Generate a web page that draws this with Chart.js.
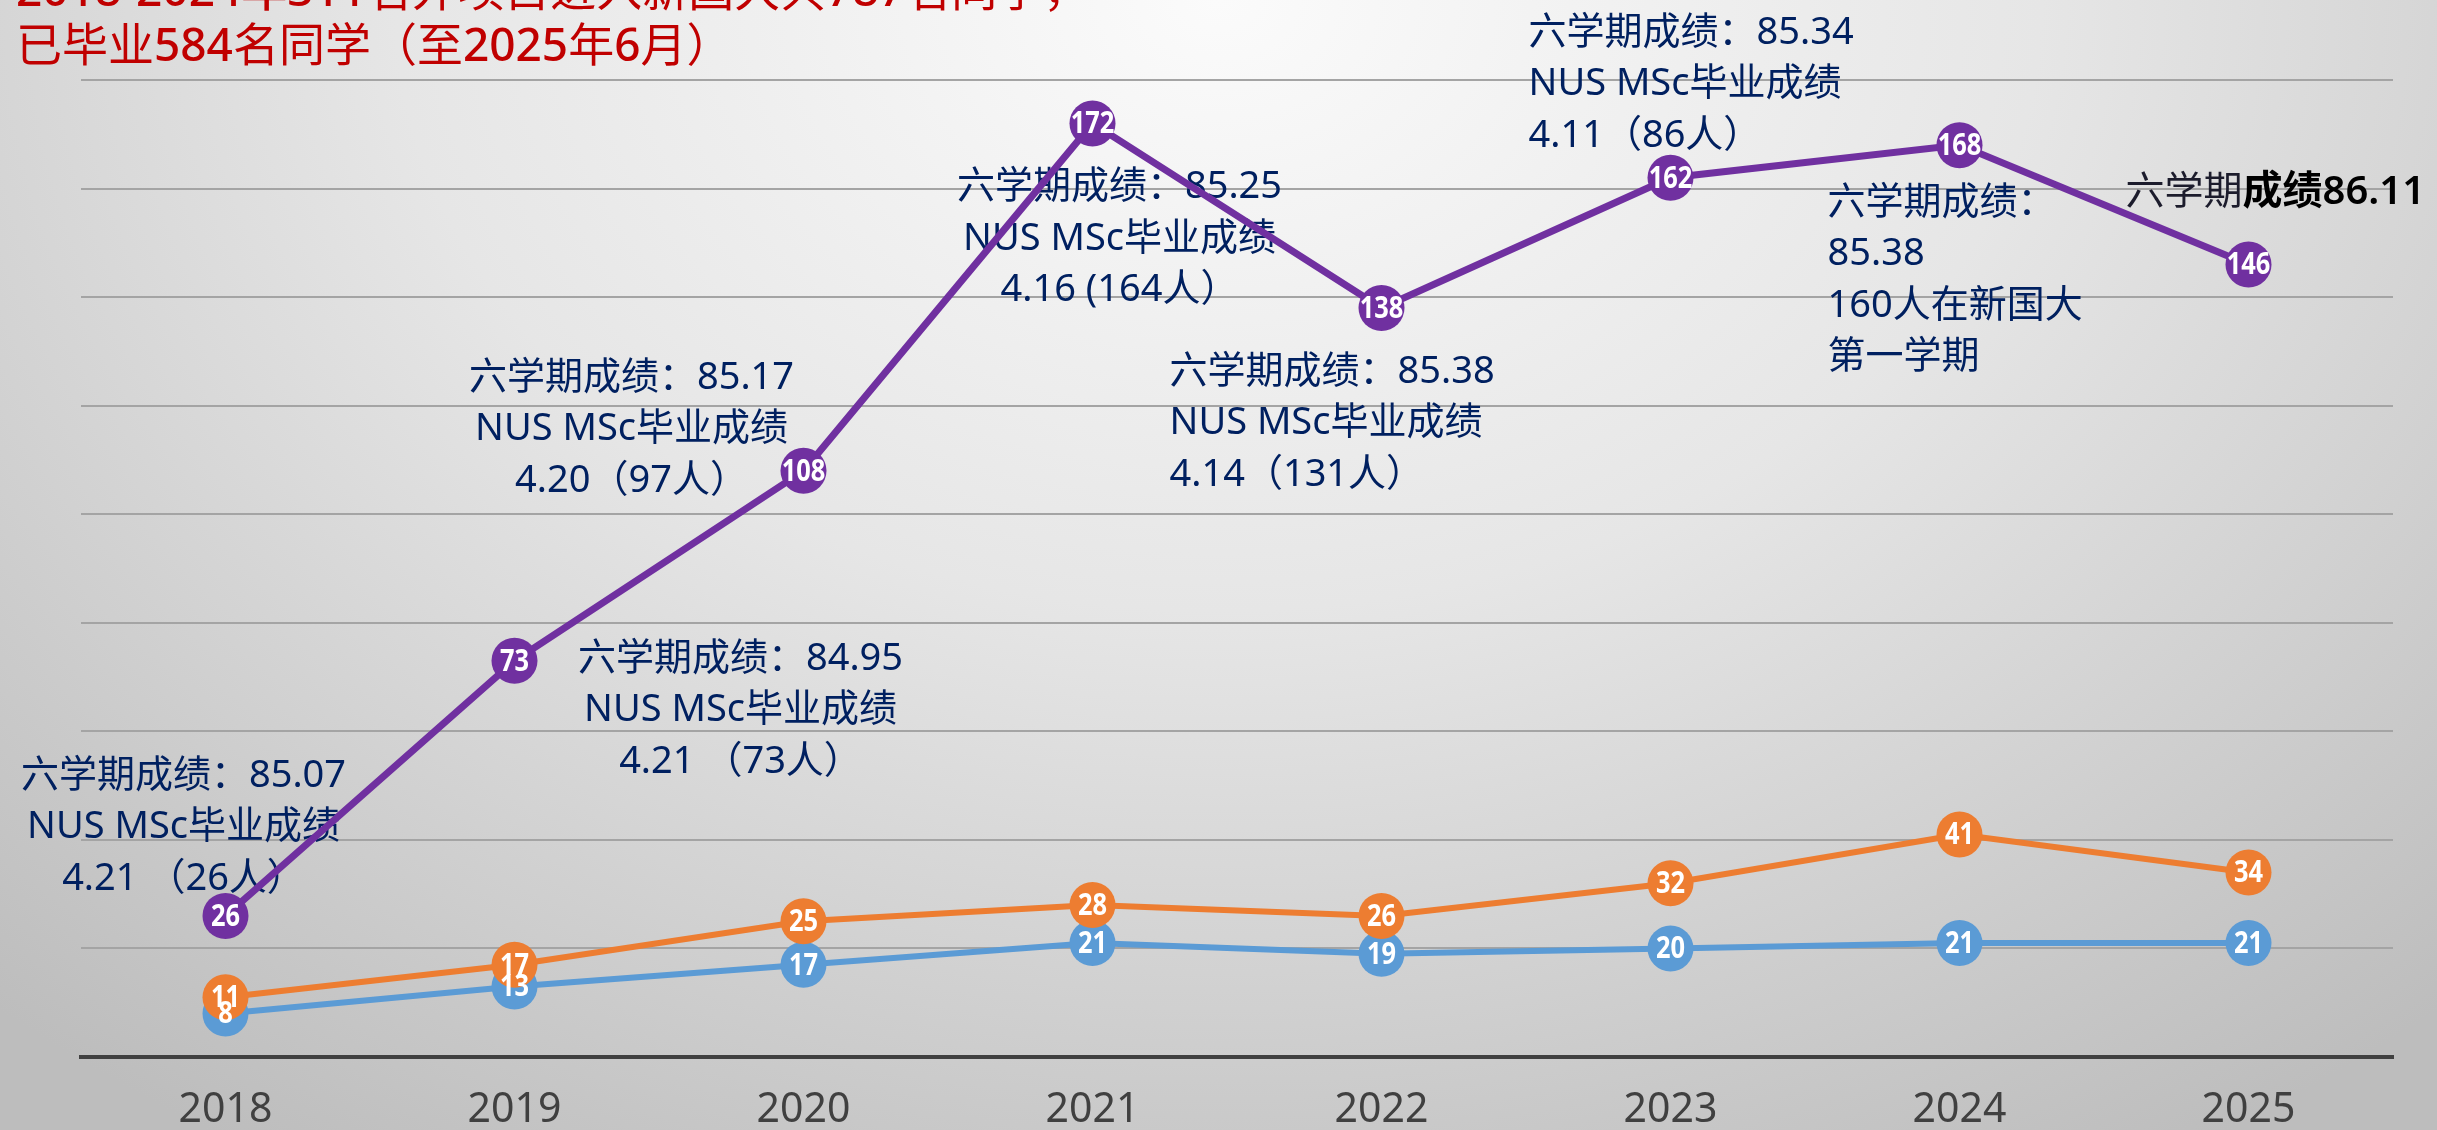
<!DOCTYPE html>
<html>
<head>
<meta charset="utf-8">
<script src="https://cdn.jsdelivr.net/npm/chart.js@4.4.1/dist/chart.umd.min.js"></script>
<style>
  html, body { margin: 0; padding: 0; }
  body {
    width: 2437px; height: 1130px; overflow: hidden;
    background: radial-gradient(ellipse 75% 120% at 50% 0%, #fbfbfb 0%, #e6e6e6 45%, #c8c8c8 85%, #bdbdbd 100%);
  }
  #wrap { position: relative; width: 2437px; height: 1130px; }
</style>
</head>
<body>
<div id="wrap"><canvas id="c"></canvas></div>
<script>
const years = ['2018', '2019', '2020', '2021', '2022', '2023', '2024', '2025'];
const purpleSeries = [26, 73, 108, 172, 138, 162, 168, 146];
const orangeSeries = [11, 17, 25, 28, 26, 32, 41, 34];
const blueSeries = [8, 13, 17, 21, 19, 20, 21, 21];
const yTicks = [0, 20, 40, 60, 80, 100, 120, 140, 160, 180];

const titleLines = [
  [['2018-2024年311', true], ['名外项目进入新国大共', false], ['787', true], ['名同学，', false]],
  [['已毕业', false], ['584', true], ['名同学（至', false], ['2025', true], ['年', false], ['6', true], ['月）', false]]
];

// notes next to the purple points: index, text lines, offset from the point, alignment
const notes = [
  { i: 0, align: 'center', dx: -42, dy: -140, lines: ['六学期成绩：85.07', 'NUS MSc毕业成绩', '4.21 （26人）'] },
  { i: 1, align: 'center', dx: 226, dy: -2, lines: ['六学期成绩：84.95', 'NUS MSc毕业成绩', '4.21 （73人）'] },
  { i: 2, align: 'center', dx: -172, dy: -93, lines: ['六学期成绩：85.17', 'NUS MSc毕业成绩', '4.20（97人）'] },
  { i: 3, align: 'center', dx: 27, dy: 64, lines: ['六学期成绩：85.25', 'NUS MSc毕业成绩', '4.16 (164人）'] },
  { i: 4, align: 'left', dx: -212, dy: 64, lines: ['六学期成绩：85.38', 'NUS MSc毕业成绩', '4.14（131人）'] },
  { i: 5, align: 'left', dx: -142, dy: -145, lines: ['六学期成绩：85.34', 'NUS MSc毕业成绩', '4.11（86人）'] },
  { i: 6, align: 'left', dx: -132, dy: 58, lines: ['六学期成绩：', '85.38', '160人在新国大', '第一学期'] }
];

const FONT = '"Noto Sans", "Noto Sans CJK SC", sans-serif';

const notesPlugin = {
  id: 'notes',
  beforeDatasetsDraw(chart) {
    const ctx = chart.ctx;
    const xs = chart.scales.x, ys = chart.scales.y;
    ctx.save();
    ctx.textBaseline = 'middle';
    ctx.font = '38px ' + FONT;
    ctx.fillStyle = '#002060';
    notes.forEach(n => {
      const px = xs.getPixelForValue(n.i);
      const py = ys.getPixelForValue(purpleSeries[n.i]);
      ctx.textAlign = n.align;
      n.lines.forEach((t, k) => ctx.fillText(t, px + n.dx, py + n.dy + k * 51.5));
    });
    // last note, black
    const px = xs.getPixelForValue(7) - 123;
    const py = ys.getPixelForValue(purpleSeries[7]) - 72;
    ctx.textAlign = 'left';
    ctx.fillStyle = '#1c1c2c';
    ctx.font = '39px ' + FONT;
    ctx.fillText('六学期', px, py);
    const w = ctx.measureText('六学期').width;
    ctx.fillStyle = '#000';
    ctx.font = '600 40px ' + FONT;
    ctx.fillText('成绩86.11', px + w, py);

    // title in red
    ctx.fillStyle = '#c00000';
    [-7, 48].forEach((y, li) => {
      let x = 16;
      titleLines[li].forEach(([t, bold]) => {
        ctx.font = (bold ? '500 ' : '400 ') + '46px ' + FONT;
        ctx.fillText(t, x, y);
        x += ctx.measureText(t).width;
      });
    });
    ctx.restore();
  }
};

const valueLabels = {
  id: 'valueLabels',
  afterDatasetsDraw(chart) {
    const ctx = chart.ctx;
    ctx.save();
    ctx.fillStyle = '#fff';
    ctx.font = '700 31px ' + FONT;
    ctx.textAlign = 'center';
    ctx.textBaseline = 'middle';
    for (let d = chart.data.datasets.length - 1; d >= 0; d--) {
      const data = chart.data.datasets[d].data;
      chart.getDatasetMeta(d).data.forEach((pt, k) => {
        ctx.save();
        ctx.translate(pt.x, pt.y + 1);
        ctx.scale(0.82, 1);
        ctx.fillText(String(data[k]), 0, 0);
        ctx.restore();
      });
    }
    ctx.restore();
  }
};

function series(data, color, width) {
  return {
    data: data,
    borderColor: color,
    backgroundColor: color,
    borderWidth: width,
    pointRadius: 23,
    pointHoverRadius: 23,
    pointBackgroundColor: color,
    pointBorderWidth: 0,
    tension: 0,
    clip: false
  };
}

new Chart(document.getElementById('c'), {
  type: 'line',
  data: {
    labels: years,
    datasets: [
      series(purpleSeries, '#7030a0', 7),
      series(orangeSeries, '#ed7d31', 6),
      series(blueSeries, '#5b9bd5', 6)
    ]
  },
  options: {
    responsive: true,
    maintainAspectRatio: false,
    animation: false,
    events: [],
    layout: { padding: { left: 81, right: 44, top: 80, bottom: 0 } },
    plugins: { legend: { display: false }, tooltip: { enabled: false } },
    scales: {
      x: {
        offset: true,
        grid: { display: false, drawTicks: false },
        border: { color: '#404040', width: 4 },
        ticks: { color: '#404040', font: { family: FONT, size: 41 }, padding: 29 },
        afterFit: (axis) => { axis.height = 73; }
      },
      y: {
        min: yTicks[0],
        max: yTicks[yTicks.length - 1],
        afterBuildTicks: (axis) => { axis.ticks = yTicks.map(v => ({ value: v })); },
        ticks: { display: false },
        grid: { color: '#a4a4a4', lineWidth: 2, drawTicks: false },
        border: { display: false },
        afterFit: (axis) => { axis.width = 0; }
      }
    }
  },
  plugins: [notesPlugin, valueLabels]
});
</script>
</body>
</html>
